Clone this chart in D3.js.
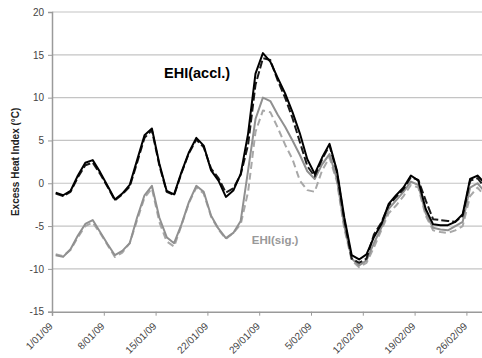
<!DOCTYPE html>
<html><head><meta charset="utf-8">
<script src="https://cdn.jsdelivr.net/npm/d3@7"></script>
<style>
html,body{margin:0;padding:0;background:#fff;overflow:hidden;}
svg{display:block;font-family:"Liberation Sans",Arial,sans-serif;}
</style></head>
<body>
<script>
const startDate = "2009-01-01";
const endDate = "2009-03-01";
const yTicks = [-15, -10, -5, 0, 5, 10, 15, 20];
const xTickLabels = ["1/01/09","8/01/09","15/01/09","22/01/09","29/01/09","5/02/09","12/02/09","19/02/09","26/02/09"];
const seriesNames = ["EHI(accl.)", "EHI(accl.) alt", "EHI(sig.)", "EHI(sig.) alt"];

const ehiAccl = [-1.1,-1.4,-0.9,0.9,2.4,2.7,1.3,-0.3,-1.9,-1.2,-0.2,2.7,5.6,6.4,2.3,-0.9,-1.3,1.3,3.6,5.3,4.4,1.5,0.3,-1.6,-0.85,1.1,5.8,12.8,15.2,14.2,12.3,10.5,8.3,5.8,2.8,1.1,3.0,4.6,1.5,-4.0,-8.4,-8.9,-8.3,-6.3,-4.8,-2.4,-1.4,-0.5,0.9,0.3,-3.0,-4.8,-4.9,-4.9,-4.5,-3.6,0.5,0.9,0.0];
const ehiAcclAlt = [-1.2,-1.5,-1.0,0.7,2.1,2.4,1.1,-0.4,-2.0,-1.3,-0.4,2.4,5.3,6.2,2.1,-1.0,-1.4,1.2,3.5,5.1,4.2,1.7,0.6,-1.1,-0.6,1.0,4.5,11.5,14.6,14.4,12.0,10.0,7.6,4.8,2.0,0.8,2.8,4.4,1.3,-4.3,-8.8,-9.3,-8.8,-6.0,-4.6,-2.6,-1.6,-0.7,0.7,0.4,-2.0,-4.2,-4.3,-4.4,-4.5,-3.8,0.3,0.6,-0.5];
const ehiSig = [-8.4,-8.6,-7.7,-6.1,-4.75,-4.3,-5.7,-7.1,-8.4,-7.9,-7.0,-4.0,-1.4,-0.3,-4.0,-6.3,-7.0,-4.8,-2.2,-0.3,-1.0,-3.8,-5.3,-6.4,-5.8,-4.4,1.5,7.5,10.0,9.6,8.0,6.6,5.0,3.3,1.4,0.5,2.2,3.4,0.5,-5.0,-8.8,-9.6,-9.0,-7.0,-5.2,-3.0,-2.0,-1.0,0.2,-0.2,-3.5,-5.2,-5.4,-5.5,-5.0,-4.5,-0.5,0.0,-1.0];
const ehiSigAlt = [-8.3,-8.5,-7.8,-6.3,-5.0,-4.6,-5.8,-7.2,-8.6,-8.1,-7.0,-4.3,-1.7,-0.6,-4.5,-6.8,-7.4,-4.9,-2.3,-0.5,-1.2,-3.9,-5.4,-6.5,-5.8,-4.8,-1.0,6.0,8.5,8.3,6.5,4.5,2.8,0.3,-0.8,-1.0,1.5,3.0,0.2,-5.3,-9.0,-9.8,-9.3,-7.5,-5.5,-3.5,-2.6,-1.5,-0.2,-0.5,-3.8,-5.5,-5.7,-5.8,-5.5,-5.0,-1.5,-0.5,-1.5];

const W = 482, H = 358;
const margin = {left: 52, top: 12};
const plotBottom = 311.7;
const dayPx = 7.4;
const parse = d3.utcParse("%Y-%m-%d");
const d0 = parse(startDate), d1 = parse(endDate);
const nDays = d3.utcDay.count(d0, d1);

const x = d3.scaleUtc().domain([d0, d1]).range([margin.left, margin.left + nDays * dayPx]);
const y = d3.scaleLinear().domain([-15, 20]).range([plotBottom, margin.top]);

const svg = d3.select("body").append("svg").attr("width", W).attr("height", H);

// gridlines
svg.append("g").selectAll("line").data(yTicks.filter(v => v > -15)).join("line")
  .attr("x1", margin.left).attr("x2", W)
  .attr("y1", d => y(d)).attr("y2", d => y(d))
  .attr("stroke", "#c4c4c4").attr("stroke-width", 1.2);

// y axis
const yAxis = d3.axisLeft(y).tickValues(yTicks).tickSize(4).tickPadding(4).tickFormat(d => String(d));
const gy = svg.append("g").attr("transform", `translate(${margin.left},0)`).call(yAxis);
gy.select(".domain").attr("stroke", "#9a9a9a").attr("stroke-width", 1.5);
gy.selectAll(".tick line").attr("stroke", "#9a9a9a");
gy.selectAll("text").attr("font-size", 10).attr("fill", "#444").attr("font-family", "Liberation Sans, Arial, sans-serif");

// x axis
const tickDates = d3.utcDay.range(d0, d1, 1).filter((d, i) => i % 7 === 0);
const xAxis = d3.axisBottom(x).tickValues(tickDates).tickSize(4).tickFormat((d, i) => xTickLabels[i]);
const gx = svg.append("g").attr("transform", `translate(0,${plotBottom})`).call(xAxis);
gx.select(".domain").attr("stroke", "#9a9a9a").attr("stroke-width", 1.5);
gx.selectAll(".tick line").attr("stroke", "#9a9a9a");
gx.selectAll("text")
  .attr("font-size", 10).attr("fill", "#444").attr("font-family", "Liberation Sans, Arial, sans-serif")
  .attr("text-anchor", "end").attr("dy", null).attr("y", 0)
  .attr("transform", "translate(1,15) rotate(-45)");

// y title
svg.append("text")
  .attr("transform", `translate(19,${(margin.top + plotBottom) / 2}) rotate(-90)`)
  .attr("text-anchor", "middle").attr("font-size", 10).attr("font-weight", "bold").attr("fill", "#222")
  .text("Excess Heat Index (°C)");

// lines
const line = d3.line()
  .x((d, i) => x(d3.utcHour.offset(d3.utcDay.offset(d0, i), 12)))
  .y(d => y(d));

svg.append("clipPath").attr("id", "clip").append("rect")
  .attr("x", margin.left).attr("y", 0).attr("width", W - margin.left).attr("height", H);

const series = [
  {data: ehiSigAlt, color: "#a8a8a8", dash: "7,4"},
  {data: ehiSig, color: "#909090", dash: null},
  {data: ehiAcclAlt, color: "#1a1a1a", dash: "8,3"},
  {data: ehiAccl, color: "#000", dash: null}
];
const gl = svg.append("g").attr("clip-path", "url(#clip)");
series.forEach(s => {
  gl.append("path").datum(s.data)
    .attr("d", line)
    .attr("fill", "none")
    .attr("stroke", s.color)
    .attr("stroke-width", 2)
    .attr("stroke-linejoin", "round")
    .attr("stroke-dasharray", s.dash);
});

// annotations
svg.append("text")
  .attr("x", x(parse("2009-01-16")) + 1).attr("y", y(12.3))
  .attr("font-size", 14.5).attr("font-weight", "bold").attr("fill", "#000")
  .text(seriesNames[0]);
svg.append("text")
  .attr("x", x(parse("2009-01-28"))).attr("y", y(-7.1))
  .attr("font-size", 11.5).attr("font-weight", "bold").attr("fill", "#999")
  .text(seriesNames[2]);
</script>
</body></html>
